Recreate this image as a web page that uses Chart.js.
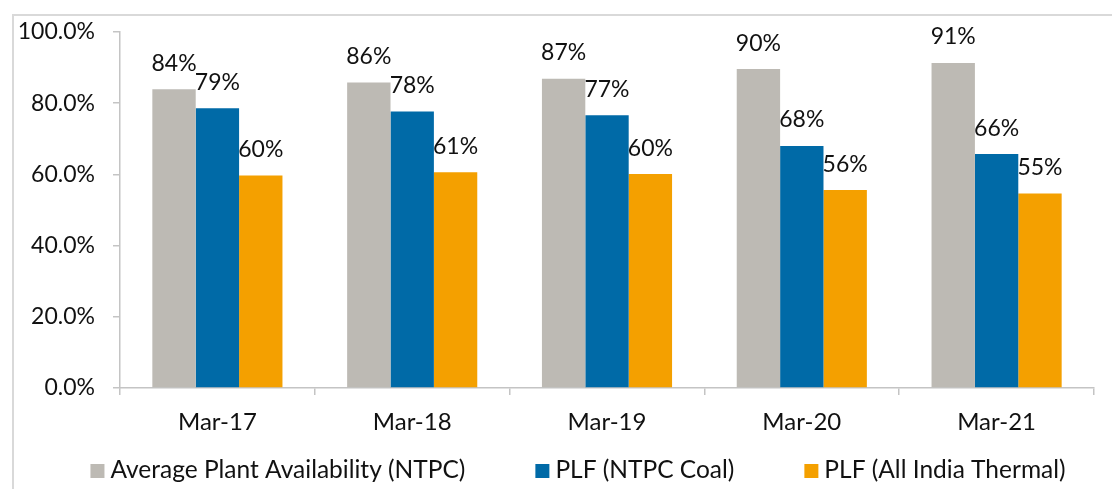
<!DOCTYPE html>
<html>
<head>
<meta charset="utf-8">
<title>Plant availability and PLF</title>
<script src="https://cdn.jsdelivr.net/npm/chart.js@4/dist/chart.umd.min.js"></script>
<style>
  html, body { margin: 0; padding: 0; background: #fff; overflow: hidden; }
  #frame {
    position: absolute; left: 12px; top: 14px; width: 1200px; height: 600px;
    border-left: 2px solid #d9d9d9; border-top: 2px solid #d9d9d9; box-sizing: border-box;
  }
  #wrap { position: absolute; left: 0; top: 0; width: 1112px; height: 489px; }
</style>
</head>
<body>
<div id="frame"></div>
<div id="wrap"><canvas id="chart" width="1112" height="489"></canvas></div>
<script>
// Fiscal year ends
const categories = ['Mar-17', 'Mar-18', 'Mar-19', 'Mar-20', 'Mar-21'];
const seriesNames = ['Average Plant Availability (NTPC)', 'PLF (NTPC Coal)', 'PLF (All India Thermal)'];

// Percentages per year
const availabilityNTPC = [83.9, 85.8, 86.9, 89.6, 91.3];
const plfNTPCCoal      = [78.6, 77.7, 76.6, 68.0, 65.7];
const plfAllIndia      = [59.7, 60.6, 60.1, 55.6, 54.6];

// Value axis
const yMin = 0;
const yMax = 100;
const yStep = 20;

const seriesColors = ['#bdbab4', '#006aa7', '#f4a000'];
const axisColor = '#c4c4c4';
const textColor = '#111111';
const fontFamily = 'Lato, "Open Sans", sans-serif';

Chart.defaults.font.family = fontFamily;
Chart.defaults.color = textColor;

// Writes the rounded percentage above each bar
const valueLabels = {
  id: 'valueLabels',
  afterDatasetsDraw(chart) {
    const ctx = chart.ctx;
    ctx.save();
    ctx.font = '23px ' + fontFamily;
    ctx.fillStyle = textColor;
    ctx.textAlign = 'center';
    ctx.textBaseline = 'alphabetic';
    chart.data.datasets.forEach((ds, i) => {
      const meta = chart.getDatasetMeta(i);
      meta.data.forEach((bar, j) => {
        ctx.fillText(Math.round(ds.data[j]) + '%', bar.x, bar.y - 18.5);
      });
    });
    ctx.restore();
  }
};

// Single-row legend under the axis labels
const legendRow = {
  id: 'legendRow',
  afterDraw(chart) {
    const ctx = chart.ctx;
    const box = 14, gapText = 6, gapItem = 70;
    const baseline = 478;
    ctx.save();
    ctx.font = '24.5px ' + fontFamily;
    const items = chart.data.datasets.map(ds => ({
      text: ds.label, color: ds.backgroundColor, w: ctx.measureText(ds.label).width
    }));
    const total = items.reduce((s, it) => s + box + gapText + it.w, 0) + gapItem * (items.length - 1);
    let x = 578 - total / 2;
    ctx.textAlign = 'left';
    ctx.textBaseline = 'alphabetic';
    items.forEach(it => {
      ctx.fillStyle = it.color;
      ctx.fillRect(x, baseline - box, box, box);
      ctx.fillStyle = textColor;
      ctx.fillText(it.text, x + box + gapText, baseline);
      x += box + gapText + it.w + gapItem;
    });
    ctx.restore();
  }
};

new Chart(document.getElementById('chart'), {
  type: 'bar',
  data: {
    labels: categories,
    datasets: [
      { label: seriesNames[0], data: availabilityNTPC, backgroundColor: seriesColors[0] },
      { label: seriesNames[1], data: plfNTPCCoal, backgroundColor: seriesColors[1] },
      { label: seriesNames[2], data: plfAllIndia, backgroundColor: seriesColors[2] }
    ]
  },
  options: {
    responsive: false,
    devicePixelRatio: 1,
    animation: false,
    layout: { padding: { left: 0, top: 32, right: 18, bottom: 0 } },
    datasets: { bar: { categoryPercentage: 0.668, barPercentage: 1.0, borderWidth: 0 } },
    plugins: { legend: { display: false }, tooltip: { enabled: false } },
    scales: {
      x: {
        grid: { display: true, drawOnChartArea: false, drawTicks: true, tickLength: 7, color: axisColor, lineWidth: 1.5 },
        border: { display: true, color: axisColor, width: 1.5 },
        ticks: { font: { size: 24 }, color: textColor, padding: 13 },
        afterFit(scale) { scale.height = 101; }
      },
      y: {
        min: yMin, max: yMax,
        grid: { display: true, drawOnChartArea: false, drawTicks: true, tickLength: 7, color: axisColor, lineWidth: 1.5 },
        border: { display: true, color: axisColor, width: 1.5 },
        ticks: {
          stepSize: yStep, font: { size: 23 }, color: textColor, padding: 18,
          callback: v => v.toFixed(1) + '%'
        },
        afterFit(scale) { scale.width = 120; }
      }
    }
  },
  plugins: [valueLabels, legendRow]
});
</script>
</body>
</html>
